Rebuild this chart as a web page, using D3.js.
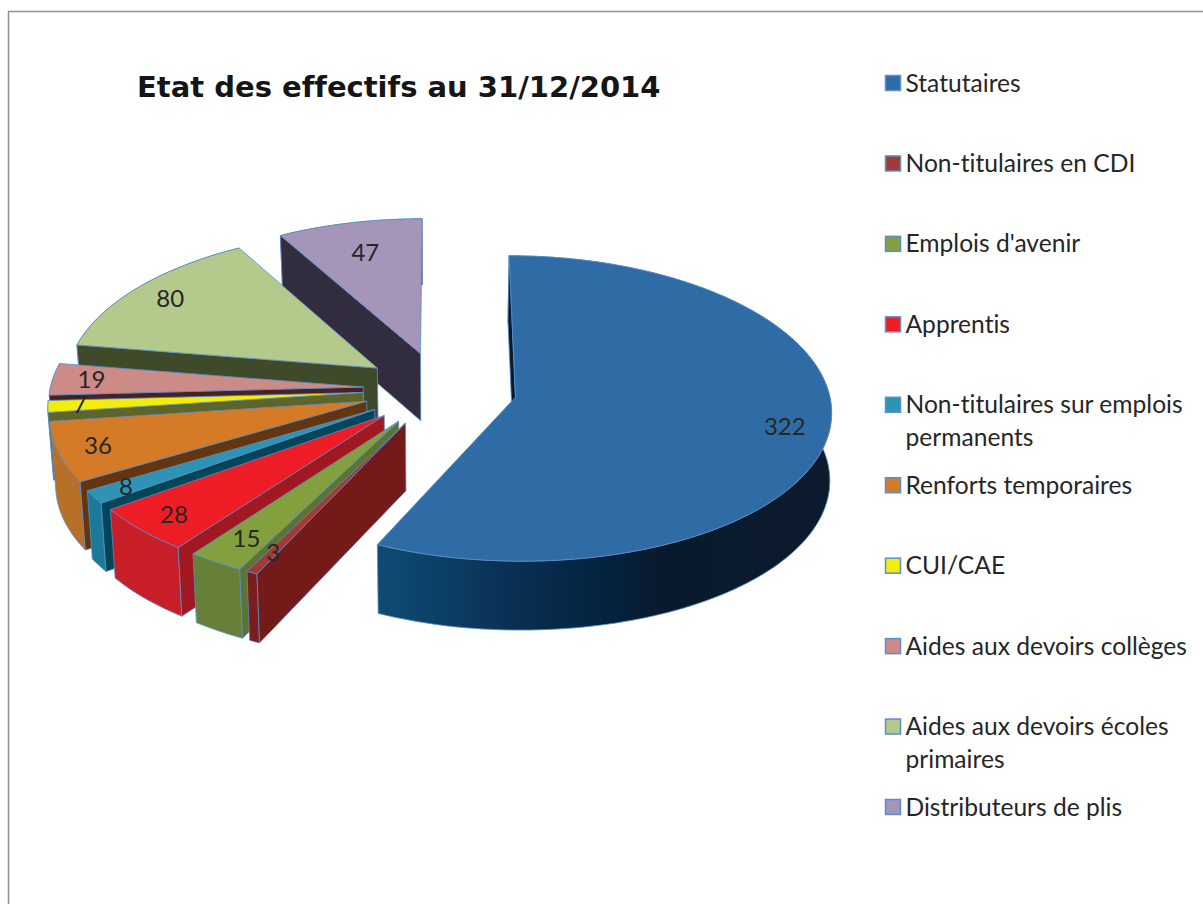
<!DOCTYPE html>
<html>
<head>
<meta charset="utf-8">
<script src="https://cdn.jsdelivr.net/npm/d3@7"></script>
<style>
  body { margin: 0; background: #fff; }
  text { font-family: Lato, "Open Sans", sans-serif; fill: #262626; font-variant-ligatures: none; }
</style>
</head>
<body>
<div id="chart"></div>
<script>
const categories = ['Statutaires', 'Non-titulaires en CDI', "Emplois d'avenir", 'Apprentis',
  'Non-titulaires sur emplois permanents', 'Renforts temporaires', 'CUI/CAE',
  'Aides aux devoirs collèges', 'Aides aux devoirs écoles primaires', 'Distributeurs de plis'];
const values = [322, 3, 15, 28, 8, 36, 7, 19, 80, 47];
const legendLines = [['Statutaires'], ['Non-titulaires en CDI'], ["Emplois d'avenir"], ['Apprentis'],
  ['Non-titulaires sur emplois', 'permanents'], ['Renforts temporaires'], ['CUI/CAE'],
  ['Aides aux devoirs collèges'], ['Aides aux devoirs écoles', 'primaires'], ['Distributeurs de plis']];

// face colours: top, cut side, outer wall
const topColors = ['#2f6ca5', '#a33a35', '#83a03e', '#ee1c25', '#2f93b3', '#d57a27', '#f4ec0a', '#cd8b88', '#b4c98c', '#a495b9'];
const cutColors = ['#0a1a2e', '#741a18', '#5c7431', '#a11820', '#04455a', '#633510', '#5f6428', '#4a2020', '#3f4a2a', '#322c3f'];
const wallColors = ['url(#statWall)', '#7a1d1c', '#66803a', '#c81e27', '#1a7b99', '#b86f26', '#8f8a20', '#8a5c5a', '#3f4a2a', '#322c3f'];
const labelReach = [0.86, 0.87, 0.84, 0.87, 0.89, 0.875, 0.9, 0.875, 0.86, 0.76];

const width = 1203;
const height = 904;
const cx = 440, cy = 389;   // pie centre
const R = 313;              // radius
const explode = 77;
const tilt = 0.484, perspY = 0.0746, perspX = 0.085;
const depth = 67.5;
const edge = '#5b8fc9';

const svg = d3.select('#chart').append('svg')
  .attr('width', width)
  .attr('height', height)
  .style('display', 'block');

const grad = svg.append('defs').append('linearGradient')
  .attr('id', 'statWall')
  .attr('gradientUnits', 'userSpaceOnUse')
  .attr('x1', 380).attr('x2', 830).attr('y1', 0).attr('y2', 0);
[[0, '#0f4a72'], [0.14, '#0c3f66'], [0.3, '#0a2f52'], [0.5, '#03233f'], [0.62, '#0a1a2e'], [1, '#0b1a2c']]
  .forEach(s => grad.append('stop').attr('offset', s[0]).attr('stop-color', s[1]));

// frame
svg.append('path')
  .attr('d', `M8.5,${height}V11.5H${width}`)
  .attr('fill', 'none')
  .attr('stroke', '#909090')
  .attr('stroke-width', 1.5);

const arcs = d3.pie().sort(null).value(d => d)(values);

// pie plane -> screen, with a bit of perspective
function project(d, angle, r, down) {
  const mid = (d.startAngle + d.endAngle) / 2;
  const X = explode * Math.sin(mid) + r * R * Math.sin(angle);
  const Y = -explode * Math.cos(mid) - r * R * Math.cos(angle);
  const sx = X * (1 + perspX * Y / R);
  const sy = Y * tilt * (1 + perspY * Y / R);
  if (!down) return [cx + sx, cy + sy];
  // lower rim pulls in a little, more on the left
  const pull = X > 0 ? -1 - 0.002 * X : -0.015 * X;
  return [cx + sx + pull, cy + sy + depth * (1 + 0.02 * Y / R)];
}

function rim(d, down) {
  const n = Math.max(2, Math.ceil((d.endAngle - d.startAngle) * 40));
  return d3.range(n + 1).map(i => project(d, d.startAngle + (d.endAngle - d.startAngle) * i / n, 1, down));
}

const line = d3.line().curve(d3.curveLinear);
const pieG = svg.append('g');

// far slices first, statutaires stays apart so its order does not matter
const order = [0, 9, 8, 7, 6, 5, 4, 3, 2, 1];
order.forEach(i => {
  const d = arcs[i];
  const g = pieG.append('g').attr('stroke', edge).attr('stroke-width', 0.8).attr('stroke-linejoin', 'round');

  // outer wall
  g.append('path')
    .attr('d', line(rim(d, false).concat(rim(d, true).reverse())) + 'Z')
    .attr('fill', wallColors[i]);

  // cut side at the start angle
  g.append('path')
    .attr('d', line([project(d, 0, 0, false), project(d, d.startAngle, 1, false),
      project(d, d.startAngle, 1, true), project(d, 0, 0, true)]) + 'Z')
    .attr('fill', cutColors[i]);

  // top
  g.append('path')
    .attr('d', line([project(d, 0, 0, false)].concat(rim(d, false))) + 'Z')
    .attr('fill', topColors[i]);
});

// value labels
svg.append('g').selectAll('text')
  .data(arcs)
  .enter()
  .append('text')
  .attr('transform', (d, i) => `translate(${project(d, (d.startAngle + d.endAngle) / 2, labelReach[i], false)})`)
  .attr('text-anchor', 'middle')
  .attr('dy', '0.35em')
  .style('font-size', '24px')
  .text(d => d.data);

svg.append('text')
  .attr('x', 137)
  .attr('y', 97)
  .style('font-family', '"DejaVu Sans", sans-serif')
  .style('font-weight', 'bold')
  .style('font-size', '29px')
  .style('fill', '#151515')
  .text('Etat des effectifs au 31/12/2014');

// legend
const legendY = d3.scaleLinear().domain([0, categories.length - 1]).range([83, 807]);
const legend = svg.append('g').selectAll('g')
  .data(categories)
  .enter()
  .append('g')
  .attr('transform', (d, i) => `translate(885, ${legendY(i)})`);

legend.append('rect')
  .attr('x', 0.5).attr('y', -7.5)
  .attr('width', 15).attr('height', 15)
  .attr('fill', (d, i) => topColors[i])
  .attr('stroke', edge)
  .attr('stroke-width', 1.5);

legend.append('text')
  .attr('x', 20.5)
  .style('font-size', '24.6px')
  .selectAll('tspan')
  .data((d, i) => legendLines[i])
  .enter()
  .append('tspan')
  .attr('x', 20.5)
  .attr('y', (d, j) => 8.5 + j * 33)
  .text(d => d);
</script>
</body>
</html>
